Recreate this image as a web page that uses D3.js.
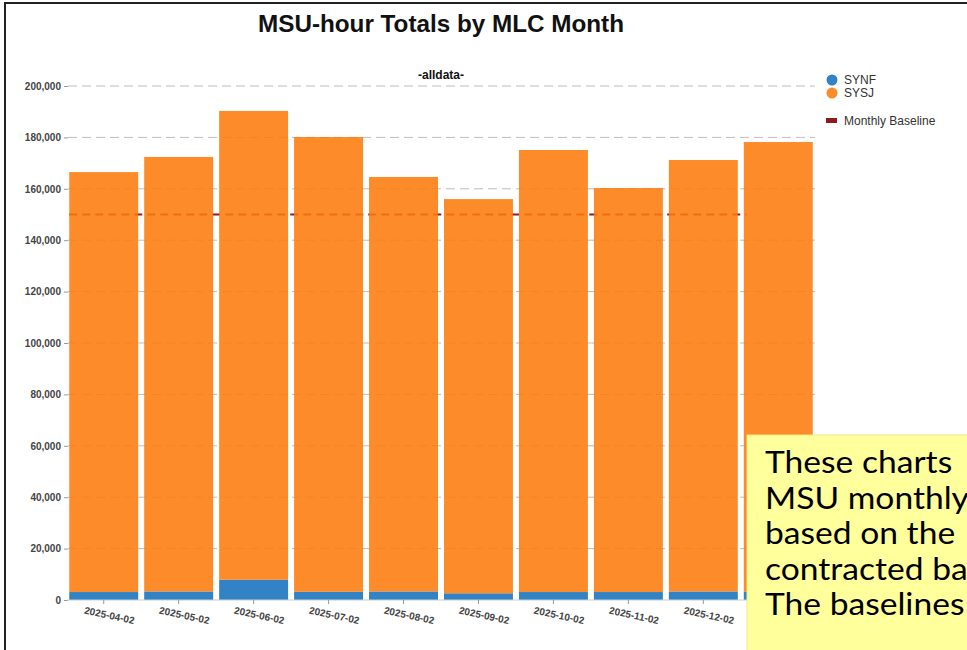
<!DOCTYPE html>
<html>
<head>
<meta charset="utf-8">
<script src="https://cdn.jsdelivr.net/npm/d3@7"></script>
<style>
  body { margin: 0; background: #fff; overflow: hidden; }
  svg { display: block; }
</style>
</head>
<body>
<script>
var months = ['2025-04-02', '2025-05-02', '2025-06-02', '2025-07-02', '2025-08-02',
              '2025-09-02', '2025-10-02', '2025-11-02', '2025-12-02', '2026-01-02'];
var synf = [3100, 3300, 7900, 3200, 3300, 2600, 3100, 3100, 3300, 3200];
var sysj = [163400, 169100, 182400, 176950, 161300, 153400, 172000, 157200, 167900, 175000];
var yTicks = [0, 20000, 40000, 60000, 80000, 100000, 120000, 140000, 160000, 180000, 200000];
var baseline = 150000;
var noteLines = ['These charts', 'MSU monthly', 'based on the', 'contracted ba', 'The baselines'];

var W = 967, H = 650;
// bars are a little see-through, so the base colours are deeper
var BLUE = '#1572be', ORANGE = '#fd7b0c', RED = '#8e1b1f';
var FONT = 'Liberation Sans, Arial, sans-serif';

var svg = d3.select('body').append('svg')
  .attr('width', W)
  .attr('height', H);

var x = d3.scaleBand()
  .domain(months)
  .range([67, 815])
  .paddingInner(0.08)
  .paddingOuter(0.03);

var y = d3.scaleLinear()
  .domain([0, 200000])
  .range([600, 86]);

var data = months.map(function(m, i) {
  return { month: m, SYNF: synf[i], SYSJ: sysj[i] };
});
var stack = d3.stack().keys(['SYNF', 'SYSJ'])(data);
var color = { SYNF: BLUE, SYSJ: ORANGE };

// frame of the slide
svg.append('rect')
  .attr('x', 5).attr('y', 3)
  .attr('width', 1000).attr('height', 700)
  .attr('fill', 'none')
  .attr('stroke', '#222')
  .attr('stroke-width', 2);

svg.append('text')
  .attr('x', 441).attr('y', 32)
  .attr('text-anchor', 'middle')
  .attr('textLength', 366)
  .attr('lengthAdjust', 'spacingAndGlyphs')
  .style('font-family', FONT)
  .style('font-weight', 'bold')
  .style('font-size', '24px')
  .style('fill', '#111')
  .text('MSU-hour Totals by MLC Month');

svg.append('text')
  .attr('x', 441).attr('y', 79)
  .attr('text-anchor', 'middle')
  .style('font-family', FONT)
  .style('font-weight', 'bold')
  .style('font-size', '12px')
  .style('fill', '#111')
  .text('-alldata-');

// gridlines
svg.append('g').selectAll('line')
    .data(yTicks.slice(1))
  .enter().append('line')
    .attr('x1', 68).attr('x2', 815)
    .attr('y1', function(d) { return y(d); })
    .attr('y2', function(d) { return y(d); })
    .attr('stroke', '#bdbdbd')
    .attr('stroke-width', 1)
    .attr('stroke-dasharray', '9,5');

// monthly baseline (under the bars)
svg.append('line')
  .attr('x1', x(months[0]))
  .attr('x2', x(months[months.length - 1]) + 3)
  .attr('y1', y(baseline))
  .attr('y2', y(baseline))
  .attr('stroke', RED)
  .attr('stroke-width', 2)
  .attr('stroke-dasharray', '8,5');

// bars
svg.append('g').selectAll('g')
    .data(stack)
  .enter().append('g')
    .attr('fill', function(d) { return color[d.key]; })
    .attr('fill-opacity', 0.88)
  .selectAll('rect')
    .data(function(d) { return d; })
  .enter().append('rect')
    .attr('x', function(d) { return x(d.data.month); })
    .attr('y', function(d) { return y(d[1]); })
    .attr('width', x.bandwidth())
    .attr('height', function(d) { return y(d[0]) - y(d[1]); });

// y axis
var yAxis = svg.append('g')
  .attr('transform', 'translate(68,0)')
  .call(d3.axisLeft(y).tickValues(yTicks).tickSize(4).tickPadding(3).tickFormat(d3.format(',')));
yAxis.select('.domain').remove();
yAxis.selectAll('line').attr('stroke', '#999');
yAxis.selectAll('text')
  .style('font-family', FONT)
  .style('font-weight', 'bold')
  .style('font-size', '10px')
  .style('fill', '#444');

// x axis
var xAxis = svg.append('g')
  .attr('transform', 'translate(0,600)')
  .call(d3.axisBottom(x).tickSize(4).tickPadding(6));
xAxis.select('.domain').attr('stroke', '#ccc').attr('d', 'M67,0H815');
xAxis.selectAll('line').attr('stroke', '#999');
xAxis.selectAll('text')
  .attr('text-anchor', 'middle')
  .attr('dy', 0)
  .attr('transform', 'translate(7,9) rotate(12)')
  .style('font-family', FONT)
  .style('font-weight', 'bold')
  .style('font-size', '10px')
  .style('fill', '#444');

// legend
var legend = svg.append('g').attr('transform', 'translate(832,80)');
['SYNF', 'SYSJ'].forEach(function(k, i) {
  legend.append('circle')
    .attr('cx', 0).attr('cy', i * 13)
    .attr('r', 5.5)
    .attr('fill', color[k])
    .attr('fill-opacity', 0.88);
  legend.append('text')
    .attr('x', 12).attr('y', i * 13 + 4)
    .style('font-family', FONT)
    .style('font-size', '12px')
    .style('fill', '#333')
    .text(k);
});
legend.append('rect')
  .attr('x', -6).attr('y', 38)
  .attr('width', 11).attr('height', 5)
  .attr('fill', RED);
legend.append('text')
  .attr('x', 12).attr('y', 45)
  .style('font-family', FONT)
  .style('font-size', '12px')
  .style('fill', '#333')
  .text('Monthly Baseline');

// sticky note overlay
var note = svg.append('g');
note.append('rect')
  .attr('x', 747).attr('y', 435)
  .attr('width', 240).attr('height', 230)
  .attr('fill', '#ffff9c')
  .attr('stroke', '#ecec8a')
  .attr('stroke-width', 1);
note.selectAll('text')
    .data(noteLines)
  .enter().append('text')
    .attr('transform', function(d, i) {
      return 'translate(765,' + (473 + i * 35.5) + ') scale(1.12,1)';
    })
    .style('font-family', 'Lato, sans-serif')
    .style('font-size', '30px')
    .style('fill', '#000')
    .text(function(d) { return d; });
</script>
</body>
</html>
